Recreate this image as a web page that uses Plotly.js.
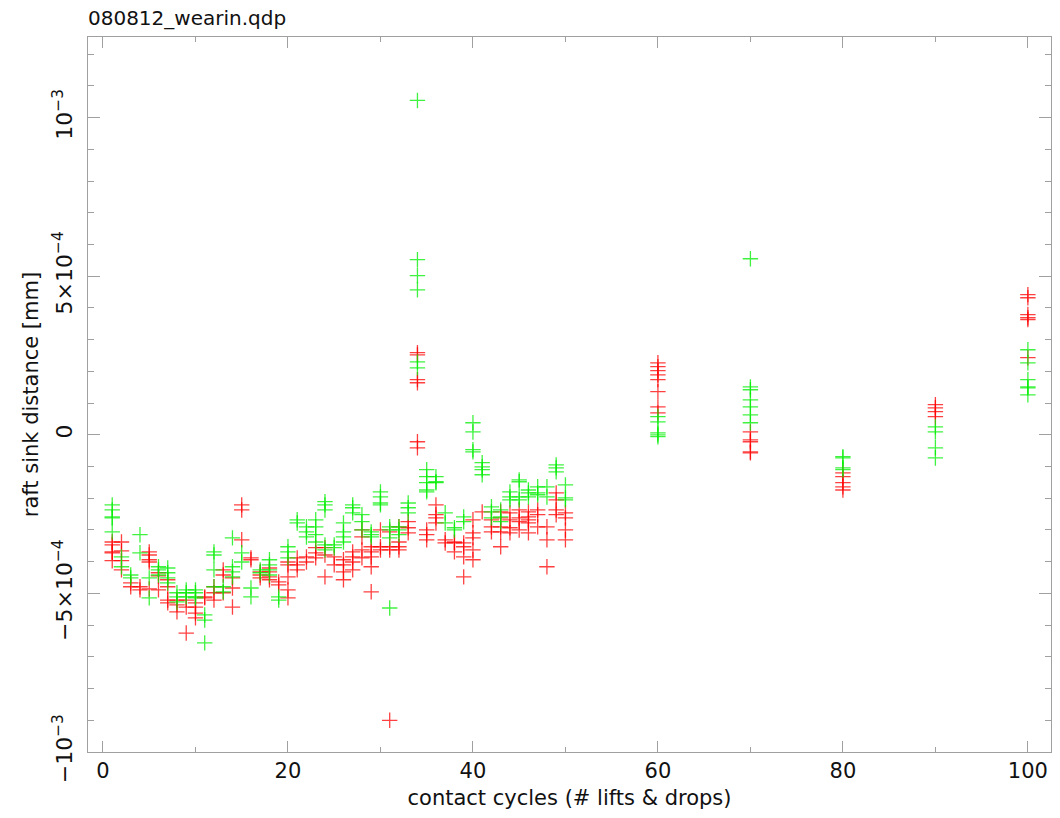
<!DOCTYPE html>
<html>
<head>
<meta charset="utf-8">
<script src="https://cdn.plot.ly/plotly-3.0.1.min.js"></script>
<style>html,body{margin:0;padding:0;background:#fff;}#chart{width:1060px;height:818px;}</style>
</head>
<body>
<div id="chart"></div>
<script>
// contact cycles (x positions)
const cycles = [1,2,3,4,5,6,7,8,9,10,11,12,13,14,15,16,17,18,19,20,21,22,23,24,25,26,27,28,29,30,31,32,33,34,35,36,37,38,39,40,41,42,43,44,45,46,47,48,49,50,60,70,80,90,100];

// raft sink distance [mm], red series, one list per cycle
const redSink = [
  [-3.38e-4,-3.47e-4,-3.69e-4,-3.72e-4,-3.97e-4],
  [-3.38e-4,-3.66e-4,-3.97e-4,-4.26e-4],
  [-4.67e-4,-4.79e-4],
  [-4.79e-4,-4.89e-4],
  [-3.69e-4,-3.79e-4,-3.94e-4,-4.01e-4,-4.86e-4],
  [-4.35e-4,-4.45e-4,-4.89e-4],
  [-4.57e-4,-4.79e-4,-5.21e-4,-5.30e-4],
  [-5.21e-4,-5.36e-4,-5.58e-4],
  [-5.21e-4,-5.43e-4,-6.25e-4],
  [-5.30e-4,-5.43e-4,-5.62e-4,-5.77e-4],
  [-5.11e-4,-5.14e-4],
  [-4.79e-4,-4.98e-4,-5.21e-4],
  [-4.26e-4,-4.42e-4,-4.98e-4],
  [-4.51e-4,-4.83e-4,-5.43e-4],
  [-2.21e-4,-2.37e-4,-3.31e-4],
  [-3.88e-4,-3.94e-4],
  [-4.32e-4,-4.42e-4,-4.51e-4],
  [-4.20e-4,-4.32e-4,-4.48e-4,-4.57e-4],
  [-4.64e-4,-4.73e-4],
  [-4.01e-4,-4.10e-4,-4.48e-4,-4.89e-4,-5.14e-4],
  [-3.88e-4,-4.10e-4,-4.26e-4],
  [-3.85e-4,-4.01e-4],
  [-3.56e-4,-3.72e-4,-3.88e-4],
  [-3.56e-4,-3.79e-4,-4.48e-4],
  [-3.85e-4,-4.10e-4],
  [-3.94e-4,-4.10e-4,-4.32e-4,-4.57e-4],
  [-3.69e-4,-3.85e-4,-4.01e-4,-4.26e-4],
  [-3.00e-4,-3.22e-4,-3.63e-4,-3.88e-4],
  [-3.53e-4,-3.69e-4,-3.85e-4,-4.16e-4,-4.95e-4],
  [-3.00e-4,-3.53e-4,-3.63e-4],
  [-3.06e-4,-3.53e-4,-3.63e-4,-9.0e-4],
  [-2.90e-4,-3.38e-4,-3.53e-4,-3.63e-4],
  [-2.74e-4,-2.93e-4,-3.09e-4],
  [2.59e-4,2.52e-4,1.74e-4,1.64e-4,-0.22e-4,-0.41e-4],
  [-3.00e-4,-3.15e-4,-3.31e-4],
  [-2.21e-4,-2.52e-4,-2.62e-4,-2.78e-4],
  [-3.31e-4,-3.41e-4],
  [-3.38e-4,-3.41e-4,-3.69e-4],
  [-3.41e-4,-3.53e-4,-3.85e-4,-4.48e-4],
  [-2.68e-4,-3.09e-4,-3.25e-4,-3.63e-4,-3.94e-4],
  [-2.43e-4],
  [-2.68e-4,-2.90e-4,-3.06e-4],
  [-2.43e-4,-2.62e-4,-2.90e-4,-3.06e-4,-3.53e-4],
  [-2.46e-4,-2.68e-4,-2.93e-4,-3.09e-4],
  [-2.37e-4,-2.62e-4,-2.74e-4,-3.00e-4],
  [-2.43e-4,-2.59e-4,-2.68e-4,-2.78e-4,-3.09e-4],
  [-2.37e-4,-2.52e-4,-2.90e-4],
  [-2.90e-4,-3.31e-4,-4.16e-4],
  [-1.83e-4,-2.05e-4,-2.37e-4,-2.52e-4],
  [-2.46e-4,-2.62e-4,-3.00e-4,-3.31e-4],
  [2.27e-4,2.15e-4,2.02e-4,1.89e-4,1.74e-4,1.36e-4,0.88e-4,0.69e-4],
  [0.09e-4,-0.16e-4,-0.22e-4,-0.54e-4,-0.57e-4],
  [-1.20e-4,-1.32e-4,-1.51e-4,-1.64e-4,-1.74e-4],
  [0.95e-4,0.85e-4,0.73e-4,0.57e-4],
  [4.42e-4,4.32e-4,3.79e-4,3.69e-4,3.63e-4,2.43e-4]
];

// raft sink distance [mm], green series, one list per cycle
const greenSink = [
  [-2.21e-4,-2.37e-4,-2.59e-4,-2.62e-4,-3.06e-4],
  [-3.85e-4,-4.16e-4],
  [-4.42e-4,-4.51e-4],
  [-3.15e-4,-3.72e-4],
  [-4.51e-4,-5.14e-4],
  [-4.16e-4,-4.26e-4,-4.42e-4],
  [-4.20e-4,-4.35e-4,-4.51e-4,-4.67e-4],
  [-4.98e-4,-5.11e-4,-5.27e-4],
  [-4.89e-4,-4.98e-4,-5.11e-4],
  [-4.89e-4,-4.98e-4,-5.11e-4,-5.14e-4],
  [-5.68e-4,-5.84e-4,-6.56e-4],
  [-3.69e-4,-3.79e-4,-4.26e-4,-4.79e-4],
  [-4.79e-4,-4.95e-4],
  [-3.25e-4,-4.16e-4,-4.32e-4,-4.48e-4],
  [-3.72e-4,-4.01e-4],
  [-4.83e-4,-5.11e-4],
  [-4.26e-4,-4.35e-4],
  [-3.94e-4,-4.10e-4,-4.26e-4,-4.42e-4],
  [-5.11e-4,-5.21e-4],
  [-3.53e-4,-3.69e-4,-3.88e-4],
  [-2.68e-4,-2.78e-4],
  [-2.90e-4,-3.06e-4,-3.22e-4],
  [-2.68e-4,-2.90e-4,-3.15e-4,-3.38e-4],
  [-2.11e-4,-2.21e-4,-2.37e-4,-3.47e-4,-3.63e-4],
  [-3.47e-4,-3.56e-4],
  [-2.78e-4,-3.06e-4,-3.22e-4,-3.38e-4],
  [-2.21e-4,-2.30e-4,-2.46e-4],
  [-2.52e-4,-2.74e-4,-3.00e-4],
  [-3.06e-4,-3.15e-4,-3.22e-4],
  [-1.80e-4,-1.96e-4,-2.15e-4,-2.21e-4],
  [-2.90e-4,-3.00e-4,-3.25e-4,-5.46e-4],
  [-2.90e-4,-3.00e-4,-3.15e-4],
  [-2.15e-4,-2.30e-4,-2.46e-4],
  [10.54e-4,5.52e-4,5.02e-4,4.57e-4,2.30e-4,2.11e-4],
  [-1.10e-4,-1.32e-4,-1.51e-4,-1.74e-4,-1.80e-4],
  [-1.32e-4,-1.48e-4,-1.51e-4],
  [-2.46e-4,-2.78e-4],
  [-2.93e-4,-3.00e-4],
  [-2.59e-4,-2.74e-4],
  [0.38e-4,0.09e-4,-0.47e-4,-0.54e-4],
  [-0.88e-4,-1.01e-4,-1.10e-4,-1.26e-4],
  [-2.27e-4,-2.43e-4,-2.62e-4],
  [-2.37e-4,-2.59e-4,-2.74e-4],
  [-1.80e-4,-1.96e-4,-2.05e-4],
  [-1.42e-4,-1.48e-4,-1.96e-4,-2.05e-4],
  [-1.74e-4,-1.83e-4,-1.96e-4],
  [-1.64e-4,-1.83e-4,-1.89e-4],
  [-1.64e-4,-1.96e-4],
  [-0.95e-4,-1.04e-4,-1.17e-4],
  [-1.58e-4,-1.99e-4,-2.05e-4],
  [0.57e-4,0.41e-4,0.06e-4,0,-0.06e-4],
  [5.55e-4,1.51e-4,1.42e-4,1.10e-4,0.88e-4,0.63e-4,0.38e-4],
  [-0.69e-4,-0.73e-4,-1.04e-4,-1.10e-4],
  [0.25e-4,0.09e-4,-0.41e-4,-0.73e-4],
  [2.68e-4,2.27e-4,1.74e-4,1.51e-4,1.48e-4,1.26e-4]
];

// y tick labels
const yTickVals = [-1e-3, -5e-4, 0, 5e-4, 1e-3];
const yTickText = ['\u221210<sup>\u22123</sup>', '\u22125\u00d710<sup>\u22124</sup>', '0', '5\u00d710<sup>\u22124</sup>', '10<sup>\u22123</sup>'];

function flatten(groups) {
  const xs = [], ys = [];
  groups.forEach((vals, i) => vals.forEach(v => { xs.push(cycles[i]); ys.push(v); }));
  return {xs, ys};
}
const red = flatten(redSink);
const green = flatten(greenSink);

const FONT = 'DejaVu Sans, Liberation Sans, Arial, sans-serif';
const axisGray = '#a0a0a0';
const textColor = '#111111';

function markerFor(color) {
  return {symbol: 'cross-thin-open', size: 11, color: color, opacity: 0.75,
          line: {color: color, width: 1.3}};
}

const traces = [
  {x: red.xs, y: red.ys, type: 'scatter', mode: 'markers', marker: markerFor('#ff0000'), hoverinfo: 'x+y'},
  {x: green.xs, y: green.ys, type: 'scatter', mode: 'markers', marker: markerFor('#00ee00'), hoverinfo: 'x+y'}
];

const layout = {
  width: 1060, height: 818,
  margin: {l: 88, r: 9, t: 37, b: 66},
  paper_bgcolor: '#ffffff', plot_bgcolor: '#ffffff',
  showlegend: false,
  font: {family: FONT, size: 20, color: textColor},
  title: {text: '080812_wearin.qdp', x: 0.083, xanchor: 'left', y: 0.978, yanchor: 'middle',
          font: {family: FONT, size: 20, color: textColor}},
  xaxis: {
    range: [-1.62, 102.5], showgrid: false, zeroline: false,
    showline: true, linecolor: axisGray, linewidth: 1, mirror: 'ticks',
    ticks: 'inside', ticklen: 11, tickcolor: axisGray, tickwidth: 1,
    tick0: 0, dtick: 20,
    minor: {ticks: 'inside', dtick: 10, tick0: 0, ticklen: 5, tickcolor: axisGray, showgrid: false},
    tickfont: {family: FONT, size: 21, color: textColor},
    title: {text: 'contact cycles (# lifts & drops)', font: {family: FONT, size: 21, color: textColor}, standoff: 8}
  },
  yaxis: {
    range: [-1.0e-3, 1.254e-3], showgrid: false, zeroline: false,
    showline: true, linecolor: axisGray, linewidth: 1, mirror: 'ticks',
    ticks: 'inside', ticklen: 12, tickcolor: axisGray, tickwidth: 1,
    tickmode: 'array', tickvals: yTickVals, ticktext: yTickText, tickangle: -90,
    ticklabelstandoff: 6,
    minor: {ticks: 'inside', dtick: 1e-4, tick0: 0, ticklen: 6, tickcolor: axisGray, showgrid: false},
    tickfont: {family: FONT, size: 22, color: textColor},
    title: {text: 'raft sink distance [mm]', font: {family: FONT, size: 21, color: textColor}, standoff: 4}
  }
};

Plotly.newPlot('chart', traces, layout, {displayModeBar: false, staticPlot: true});
</script>
</body>
</html>
